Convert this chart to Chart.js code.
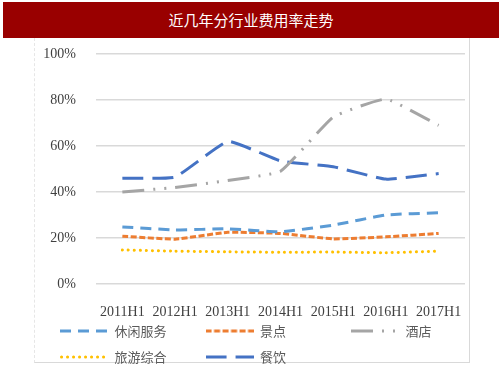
<!DOCTYPE html>
<html>
<head>
<meta charset="utf-8">
<script src="https://cdn.jsdelivr.net/npm/chart.js@4.4.1/dist/chart.umd.min.js"></script>
<style>
    body { margin: 0; background: #fff; }
    #wrap { position: relative; width: 503px; height: 379px; overflow: hidden; }
    #title {
        position: absolute; left: 3px; top: 2px; width: 496px; height: 36px;
        background: #990000; color: #fff; text-align: center;
        font: 15px "Noto Sans CJK SC", sans-serif; line-height: 36px;
    }
    #frame {
        position: absolute; left: 34px; top: 38px; width: 434px; height: 324px;
        border: 1px solid #d9d9d9; border-left: 1px dashed #e6e6e6; border-top: none;
    }
    canvas { position: absolute; left: 0; top: 0; }
</style>
</head>
<body>
<div id="wrap">
    <div id="frame"></div>
    <canvas id="chart" width="503" height="384"></canvas>
    <div id="title">近几年分行业费用率走势</div>
</div>
<script>
    // 数据（%）
    const periods = ["2011H1", "2012H1", "2013H1", "2014H1", "2015H1", "2016H1", "2017H1"];
    const xiuxian = [24.8, 23.5, 24, 22.7, 25.6, 30, 31];
    const jingdian = [20.8, 19.5, 22.5, 22, 19.6, 20.5, 22];
    const jiudian = [40, 42, 45, 49, 72.6, 80.4, 69];
    const lvyou = [14.8, 14.3, 14, 13.8, 13.9, 13.6, 14.3];
    const canyin = [46, 46.5, 62, 53.5, 51, 45.6, 48];
    const yTicks = [0, 20, 40, 60, 80, 100];

    // 图例里的线型小样（Chart.js 的 line 点样式不带虚线，所以画成小图片）
    function legendSwatch(color, dash, cap) {
        const c = document.createElement("canvas");
        c.width = 48;
        c.height = 6;
        const g = c.getContext("2d");
        g.strokeStyle = color;
        g.lineWidth = 3;
        g.lineCap = cap;
        g.setLineDash(dash);
        g.beginPath();
        const inset = cap === "round" ? 1.5 : 0;
        g.moveTo(inset, 3);
        g.lineTo(48 - inset, 3);
        g.stroke();
        return c;
    }

    function series(label, data, color, dash, cap) {
        cap = cap || "butt";
        return {
            label: label,
            data: data,
            borderColor: color,
            backgroundColor: color,
            borderWidth: 3,
            borderDash: dash,
            borderCapStyle: cap,
            pointRadius: 0,
            pointStyle: legendSwatch(color, dash, cap),
            tension: 0.12,
            fill: false
        };
    }

    // 图例整体上移/右移，让它贴近横轴标签（横轴标签会被裁到自身区域内）
    const legendShift = {
        id: "legendShift",
        afterLayout(chart) {
            const l = chart.legend;
            l.top -= 10.5; l.bottom -= 10.5;
            l.left += 13; l.right += 13;
        }
    };

    const ctx = document.getElementById("chart").getContext("2d");
    new Chart(ctx, {
        type: "line",
        data: {
            labels: periods,
            datasets: [
                series("休闲服务", xiuxian, "#5b9bd5", [11, 7]),
                series("景点", jingdian, "#ed7d31", [6, 2.5]),
                series("酒店", jiudian, "#a5a5a5", [22, 9, 2, 9, 2, 9]),
                series("旅游综合", lvyou, "#ffc000", [0.1, 5.9], "round"),
                series("餐饮", canyin, "#4472c4", [21, 9])
            ]
        },
        options: {
            responsive: false,
            devicePixelRatio: 1,
            animation: false,
            layout: { padding: { left: 34, right: 0, top: 54, bottom: 0 } },
            scales: {
                x: {
                    offset: true,
                    grid: { display: false, drawTicks: false },
                    border: { display: false },
                    ticks: {
                        color: "#404040",
                        font: { family: "Liberation Serif", size: 14 },
                        padding: 20,
                        maxRotation: 0
                    },
                    afterFit: s => { s.height = 38; }
                },
                y: {
                    min: 0,
                    max: 100,
                    afterBuildTicks: s => { s.ticks = yTicks.map(v => ({ value: v })); },
                    grid: { color: "#d9d9d9", lineWidth: 1.5, drawTicks: false },
                    border: { display: false },
                    ticks: {
                        color: "#404040",
                        font: { family: "Liberation Serif", size: 14 },
                        padding: 20,
                        callback: v => v + "%"
                    },
                    afterFit: s => { s.width = 62; }
                },
                y2: {
                    position: "right",
                    min: 0,
                    max: 100,
                    grid: { display: false, drawTicks: false },
                    border: { display: false },
                    ticks: { display: false },
                    afterFit: s => { s.width = 38; }
                }
            },
            plugins: {
                legend: {
                    position: "bottom",
                    align: "start",
                    labels: {
                        color: "#595959",
                        font: { family: "Noto Sans CJK SC", size: 13 },
                        usePointStyle: true,
                        pointStyleWidth: 48,
                        boxWidth: 48,
                        padding: 13,
                        generateLabels: chart => Chart.defaults.plugins.legend.labels.generateLabels(chart).map(l => {
                            l.text = l.text.padEnd(6, "\u3000");
                            return l;
                        })
                    }
                },
                tooltip: { enabled: false }
            }
        },
        plugins: [legendShift]
    });
</script>
</body>
</html>
